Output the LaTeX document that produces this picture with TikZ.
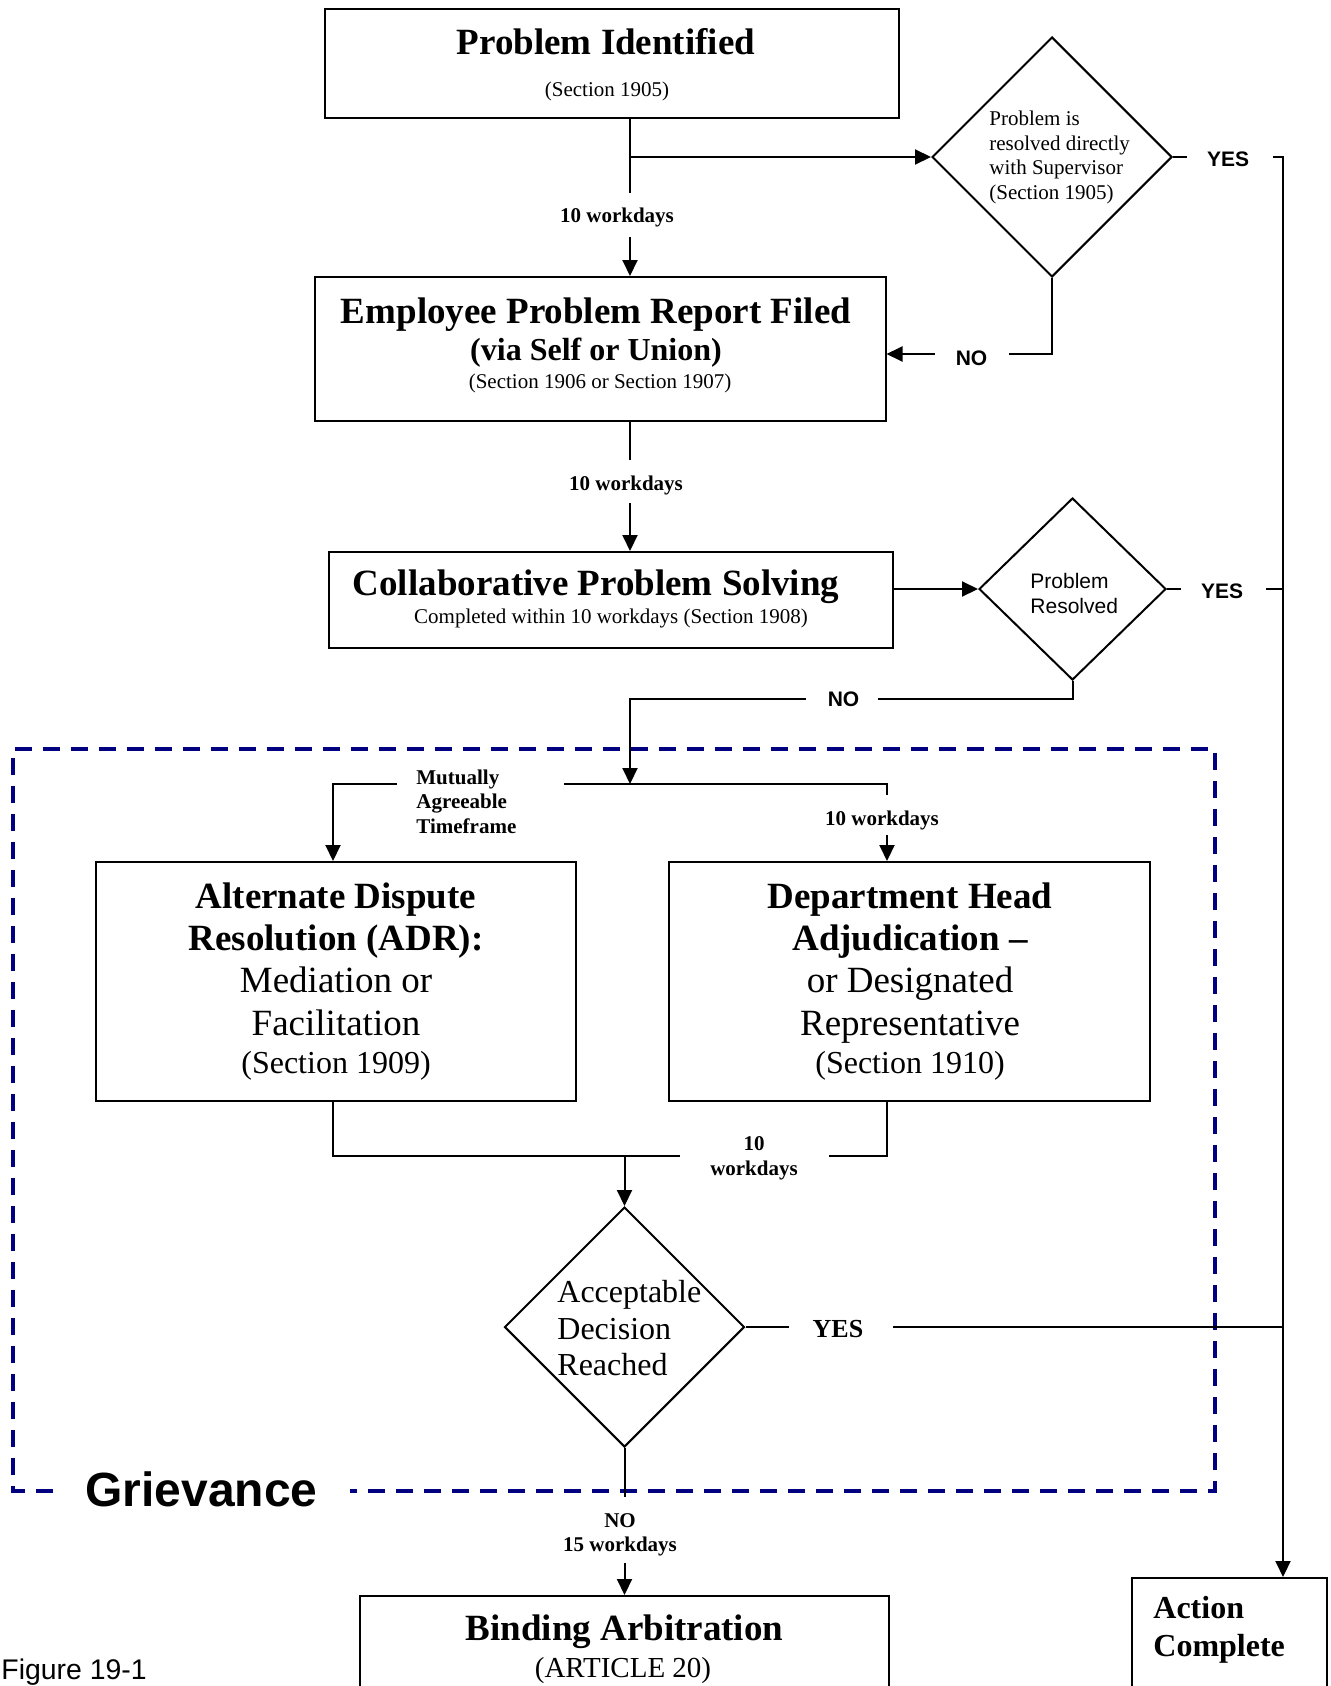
\documentclass[tikz,border=0pt]{standalone}
\usepackage{fontspec}
\setmainfont{Liberation Serif}
\newfontfamily\arialf{Liberation Sans}
\usetikzlibrary{arrows.meta,shapes.geometric}
\definecolor{grvblue}{RGB}{0,0,128}
\newcommand\fBigT{\fontsize{18.5}{21.5}\selectfont\bfseries}
\newcommand\fRegT{\fontsize{18.5}{21.5}\selectfont}
\newcommand\fMidT{\fontsize{16}{19}\selectfont}
\newcommand\fSmlT{\fontsize{10.5}{12.5}\selectfont}
\newcommand\fSansB{\arialf\bfseries\fontsize{10.5}{12.5}\selectfont}
\newcommand\fSansR{\arialf\fontsize{10.5}{12.5}\selectfont}
\begin{document}
\begin{tikzpicture}[x=0.5pt,y=-0.5pt,
  box/.style={draw,line width=1pt,rectangle,inner sep=0pt},
  dia/.style={draw,line width=1pt,diamond,inner sep=0pt},
  ln/.style={line width=1pt},
  arr/.style={line width=1pt,-{Triangle[length=8pt,width=7.5pt]}},
  tx/.style={inner sep=0pt,anchor=base},
  txw/.style={inner sep=0pt,anchor=base west},
  grv/.style={draw=grvblue,line width=2pt,dash pattern=on 8.5pt off 5.5pt}]
\useasboundingbox (0,0) rectangle (1330,1686);
\clip (0,0) rectangle (1330,1686);

% ---------- boxes and decisions ----------
\node[box,minimum width=287.25pt,minimum height=54.5pt] (PI) at (611.75,63.5) {};
\node[box,minimum width=285.25pt,minimum height=72pt] (EPRF) at (600.25,349) {};
\node[box,minimum width=282pt,minimum height=48pt] (CPS) at (611,600) {};
\node[box,minimum width=240pt,minimum height=119.5pt] (ADR) at (336,981.5) {};
\node[box,minimum width=240.5pt,minimum height=119.5pt] (DHA) at (909.5,981.5) {};
\node[box,minimum width=264.5pt,minimum height=82pt] (BA) at (624.5,1678) {};
\node[box,minimum width=97.5pt,minimum height=91pt] (AC) at (1229.5,1669) {};
\node[dia,minimum width=120pt,minimum height=120pt] (D1) at (1052,157) {};
\node[dia,minimum width=93.5pt,minimum height=91pt] (D2) at (1072.5,589) {};
\node[dia,minimum width=120pt,minimum height=120pt] (D3) at (624.5,1327) {};

% ---------- grievance frame ----------
\node[tx,font={\arialf\bfseries\fontsize{24}{28}\selectfont},inner xsep=16pt] (GRV) at (201.5,1506) {Grievance};
\coordinate (gtl) at (13,749);
\coordinate (gbr) at (1215,1491);
\draw[grv] (GRV.west |- gbr) -| (gtl) -| (gbr) -- (GRV.east |- gbr);

% ---------- helper coordinates ----------
\coordinate (xv) at (630,0);
\coordinate (xr) at (1283,0);
\coordinate (xa) at (333,0);
\coordinate (xd) at (887,0);
\coordinate (g1a) at (630,193);  \coordinate (g1b) at (630,237);
\coordinate (g2a) at (630,460);  \coordinate (g2b) at (630,503);
\coordinate (n1a) at (1009,354); \coordinate (n1b) at (935,354);
\coordinate (y1a) at (1187,157); \coordinate (y1b) at (1273,157);
\coordinate (y2a) at (1181,589); \coordinate (y2b) at (1266,589);
\coordinate (n2a) at (878,699);  \coordinate (n2b) at (806,699);
\coordinate (J1) at (630,784);
\coordinate (m1) at (564,784);   \coordinate (m2) at (397,784);
\coordinate (g3a) at (887,795);  \coordinate (g3b) at (887,835);
\coordinate (k1) at (680,1156);  \coordinate (k2) at (829,1156);
\coordinate (y3a) at (789,1327); \coordinate (y3b) at (893,1327);
\coordinate (g5a) at (622,1497); \coordinate (g5b) at (622,1563);

% ---------- connectors ----------
\draw[ln] (PI.south -| g1a) -- (g1a);
\draw[arr] (g1b) -- (EPRF.north -| g1b);
\draw[arr] (xv |- D1.west) -- (D1.west);
\draw[ln] (D1.south) |- (n1a);
\draw[arr] (n1b) -- (EPRF.east |- n1b);
\draw[ln] (D1.east) -- (y1a);
\draw[arr] (y1b) -| (AC.north -| xr);
\draw[ln] (EPRF.south -| g2a) -- (g2a);
\draw[arr] (g2b) -- (CPS.north -| g2b);
\draw[arr] (CPS.east |- D2.west) -- (D2.west);
\draw[ln] (D2.east) -- (y2a);
\draw[ln] (y2b) -- (xr |- y2b);
\draw[ln] (D2.south) |- (n2a);
\draw[arr] (n2b) -| (J1);
\draw[ln] (m1) -| (g3a);
\draw[arr] (g3b) -- (DHA.north -| g3b);
\draw[arr] (m2) -| (ADR.north -| xa);
\draw[ln] (ADR.south -| xa) |- (k1);
\draw[ln] (DHA.south -| xd) |- (k2);
\draw[arr] (D3.north |- k1) -- (D3.north);
\draw[ln] (D3.east) -- (y3a);
\draw[ln] (y3b) -- (xr |- y3b);
\draw[ln] (D3.south) -- (D3.south |- g5a);
\draw[arr] (D3.south |- g5b) -- (BA.north -| D3.south);

% ---------- connector labels ----------
\node[tx,font=\fSmlT\bfseries] (L1) at (617,222) {10 workdays};
\node[tx,font=\fSmlT\bfseries] (L2) at (626,490) {10 workdays};
\node[tx,font=\fSansB] (NO1) at (971.5,365) {NO};
\node[tx,font=\fSansB] (YES1) at (1228,166) {YES};
\node[tx,font=\fSansB] (YES2) at (1222,598) {YES};
\node[tx,font=\fSansB] (NO2) at (843.5,706) {NO};
\node[txw,font=\fSmlT\bfseries] (MA1) at (416,784) {Mutually};
\node[txw,font=\fSmlT\bfseries] (MA2) at (416,808) {Agreeable};
\node[txw,font=\fSmlT\bfseries] (MA3) at (416,833) {Timeframe};
\node[tx,font=\fSmlT\bfseries] (L3) at (882,825) {10 workdays};
\node[tx,font=\fSmlT\bfseries] (L4a) at (754,1150) {10};
\node[tx,font=\fSmlT\bfseries] (L4b) at (754,1175) {workdays};
\node[tx,font={\fontsize{13}{15}\selectfont\bfseries}] (YES3) at (838,1337) {YES};
\node[tx,font=\fSmlT\bfseries] (L5a) at (620,1527) {NO};
\node[tx,font=\fSmlT\bfseries] (L5b) at (620,1551) {15 workdays};

% ---------- box texts ----------
\node[tx,font=\fBigT] (PIt) at (606,55) {Problem Identified};
\node[tx,font=\fSmlT] (PIs) at (607,97) {(Section 1905)};

\node[txw,font=\fSmlT] (D1a) at (989,126) {Problem is};
\node[txw,font=\fSmlT] (D1b) at (989,150.5) {resolved directly};
\node[txw,font=\fSmlT] (D1c) at (989,175) {with Supervisor};
\node[txw,font=\fSmlT] (D1d) at (989,199.5) {(Section 1905)};

\node[tx,font=\fBigT] (EPt) at (596,323) {Employee Problem Report Filed};
\node[tx,font=\fMidT\bfseries] (EPv) at (596,360) {(via Self or Union)};
\node[tx,font=\fSmlT] (EPs) at (600,388) {(Section 1906 or Section 1907)};

\node[tx,font=\fBigT] (CPt) at (596,595) {Collaborative Problem Solving};
\node[tx,font=\fSmlT] (CPs) at (611,623) {Completed within 10 workdays (Section 1908)};

\node[txw,font=\fSansR] (D2a) at (1030,588) {Problem};
\node[txw,font=\fSansR] (D2b) at (1030,613) {Resolved};

\node[tx,font=\fBigT] (ADa) at (336,908) {Alternate Dispute};
\node[tx,font=\fBigT] (ADb) at (336,950) {Resolution (ADR):};
\node[tx,font=\fRegT] (ADc) at (336,992) {Mediation or};
\node[tx,font=\fRegT] (ADd) at (336,1035) {Facilitation};
\node[tx,font=\fMidT] (ADe) at (336,1073) {(Section 1909)};

\node[tx,font=\fBigT] (DHa) at (910,908) {Department Head};
\node[tx,font=\fBigT] (DHb) at (910,950) {Adjudication --};
\node[tx,font=\fRegT] (DHc) at (910,992) {or Designated};
\node[tx,font=\fRegT] (DHd) at (910,1035) {Representative};
\node[tx,font=\fMidT] (DHe) at (910,1073) {(Section 1910)};

\node[txw,font=\fMidT] (D3a) at (557,1302) {Acceptable};
\node[txw,font=\fMidT] (D3b) at (557,1339) {Decision};
\node[txw,font=\fMidT] (D3c) at (557,1375) {Reached};

\node[tx,font=\fBigT] (BAt) at (624.5,1640) {Binding Arbitration};
\node[tx,font={\fontsize{14.5}{17}\selectfont}] (BAs) at (623,1677) {(ARTICLE 20)};

\node[txw,font=\fMidT\bfseries] (ACa) at (1153,1618) {Action};
\node[txw,font=\fMidT\bfseries] (ACb) at (1153,1656) {Complete};

\node[txw,font={\arialf\fontsize{14.2}{17}\selectfont}] (FIG) at (1,1679) {Figure 19-1};
\end{tikzpicture}
\end{document}
